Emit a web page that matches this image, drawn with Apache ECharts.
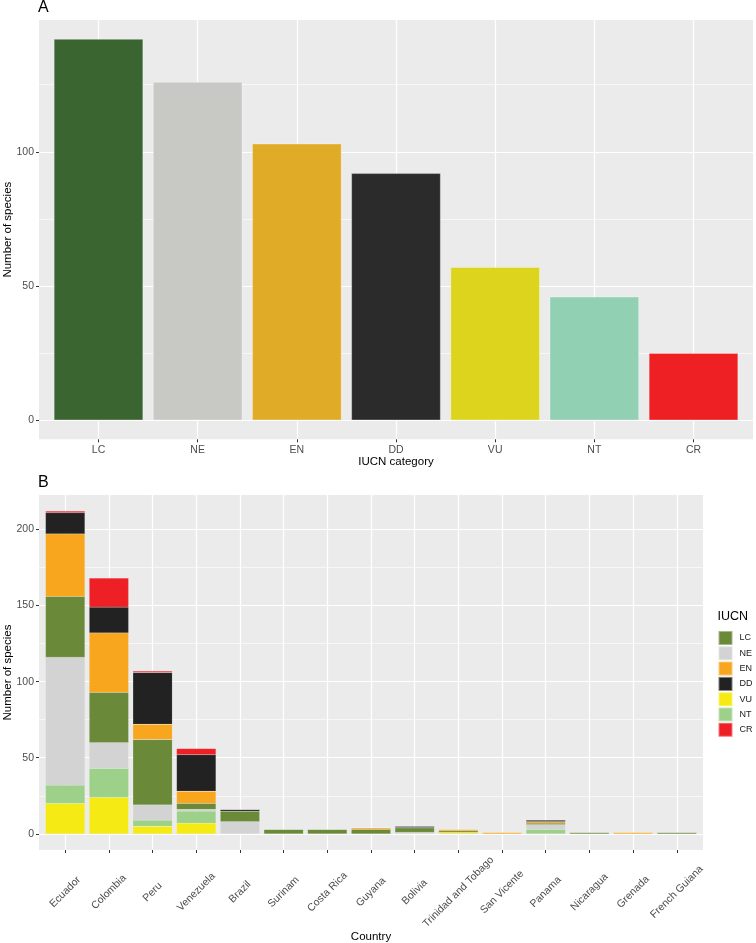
<!DOCTYPE html>
<html>
<head>
<meta charset="utf-8">
<script src="https://cdn.jsdelivr.net/npm/echarts@6/dist/echarts.min.js"></script>
<style>
  html, body { margin: 0; padding: 0; background: #fff; }
  #chart { width: 756px; height: 943px; }
</style>
</head>
<body>
<div id="chart"></div>
<script>
// Panel A: number of species per IUCN category
const iucnCategories = ['LC', 'NE', 'EN', 'DD', 'VU', 'NT', 'CR'];
const speciesPerCategory = [142, 126, 103, 92, 57, 46, 25];

// Panel B: number of species per country, split by IUCN category
const countries = ['Ecuador', 'Colombia', 'Peru', 'Venezuela', 'Brazil', 'Surinam', 'Costa Rica', 'Guyana',
  'Bolivia', 'Trinidad and Tobago', 'San Vicente', 'Panama', 'Nicaragua', 'Grenada', 'French Guiana'];
const countryLC = [40, 33, 43, 4, 7, 3, 3, 3, 3, 1, 0, 1, 1, 0, 1];
const countryNE = [84, 17, 10, 1, 8, 0, 0, 0, 1, 0, 0, 3, 0, 0, 0];
const countryEN = [41, 39, 10, 8, 0, 0, 0, 1, 0, 1, 1, 1, 0, 1, 0];
const countryDD = [14, 17, 34, 24, 1, 0, 0, 0, 1, 0, 0, 1, 0, 0, 0];
const countryVU = [20, 24, 5, 7, 0, 0, 0, 0, 0, 1, 0, 0, 0, 0, 0];
const countryNT = [12, 19, 4, 8, 0, 0, 0, 0, 0, 0, 0, 3, 0, 0, 0];
const countryCR = [1, 19, 1, 4, 0, 0, 0, 0, 0, 0, 0, 0, 0, 0, 0];

const legendOrder = ['LC', 'NE', 'EN', 'DD', 'VU', 'NT', 'CR'];
const ticksA = [0, 50, 100];
const minorA = [25, 75, 125];
const ticksB = [0, 50, 100, 150, 200];
const minorB = [25, 75, 125, 175];

// colours
const colorsA = { LC: '#3A6531', NE: '#C8C9C4', EN: '#E0AB27', DD: '#2B2B2B', VU: '#DDD41E', NT: '#92D0B4', CR: '#EE2024' };
const colorsB = { LC: '#6A8A3A', NE: '#D3D3D3', EN: '#F9A61F', DD: '#222222', VU: '#F5EA14', NT: '#9DD18A', CR: '#EE2026' };

const FONT = '"Liberation Sans", Arial, Helvetica, sans-serif';
const panelBg = '#EBEBEB';

const chart = echarts.init(document.getElementById('chart'), null, { renderer: 'canvas' });

// ggplot style panels (expansion: 0.6 on discrete x, 5% on y)
const gridA = { left: 39, top: 20, width: 714, height: 419.3 };
const gridB = { left: 39, top: 495, width: 664, height: 355 };
const maxA = Math.max(...speciesPerCategory);
const totalsB = countries.map((c, i) => countryLC[i] + countryNE[i] + countryEN[i] + countryDD[i] + countryVU[i] + countryNT[i] + countryCR[i]);
const maxB = Math.max(...totalsB);

function xAxisFor(gridIndex, names, labelOpts, nameOpts) {
  const ints = names.map((n, i) => i);
  return Object.assign({
    type: 'value',
    gridIndex: gridIndex,
    min: -0.6,
    max: names.length - 0.4,
    minInterval: 1,
    maxInterval: 1,
    axisLine: { show: false, onZero: false },
    axisTick: { show: true, length: 3, lineStyle: { color: '#333333', width: 1 }, customValues: ints },
    axisLabel: Object.assign({
      customValues: ints,
      formatter: v => names[Math.round(v)] || '',
      color: '#4D4D4D',
      fontSize: 10.5,
      fontFamily: FONT
    }, labelOpts),
    splitLine: { show: true, lineStyle: { color: '#FFFFFF', width: 1.2 } },
    nameLocation: 'middle',
    nameMoveOverlap: false,
    nameTextStyle: { color: '#000', fontSize: 11.5, fontFamily: FONT }
  }, nameOpts);
}

function yAxisFor(gridIndex, maxVal, ticks) {
  const pad = maxVal * 0.05;
  return {
    type: 'value',
    gridIndex: gridIndex,
    min: -pad,
    max: maxVal + pad,
    minInterval: 50,
    maxInterval: 50,
    name: 'Number of species',
    nameLocation: 'middle',
    nameGap: 25,
    nameRotate: 90,
    nameMoveOverlap: false,
    nameTextStyle: { color: '#000', fontSize: 11.5, fontFamily: FONT },
    axisLine: { show: false, onZero: false },
    axisTick: { show: true, length: 3, lineStyle: { color: '#333333', width: 1 }, customValues: ticks },
    axisLabel: { customValues: ticks, color: '#4D4D4D', fontSize: 10.5, fontFamily: FONT, margin: 5 },
    splitLine: { show: true, lineStyle: { color: '#FFFFFF', width: 1.2 } }
  };
}

function minorLines(values) {
  return {
    silent: true,
    symbol: 'none',
    z: 1,
    label: { show: false },
    lineStyle: { color: '#FFFFFF', width: 0.6, type: 'solid' },
    emphasis: { disabled: true },
    data: values.map(v => ({ yAxis: v }))
  };
}

// stacked from the bottom: VU, NT, NE, LC, EN, DD, CR (alphabetical levels, first on top)
const seriesB = [
  ['VU', countryVU], ['NT', countryNT], ['NE', countryNE], ['LC', countryLC],
  ['EN', countryEN], ['DD', countryDD], ['CR', countryCR]
].map(([name, vals], k) => ({
  type: 'bar',
  name: name,
  xAxisIndex: 1,
  yAxisIndex: 1,
  stack: 'country',
  barWidth: 0.9 * gridB.width / (countries.length + 0.2),
  itemStyle: { color: colorsB[name], borderColor: 'rgba(255,255,255,0.4)', borderWidth: 0.3 },
  // value first so that it is the stacked dimension
  encode: { x: 1, y: 0 },
  data: vals.map((v, i) => [v, i]),
  markLine: k === 0 ? minorLines(minorB) : undefined
}));

const titleText = { fontWeight: 'normal', color: '#000', fontFamily: FONT };

const option = {
  animation: false,
  textStyle: { fontFamily: FONT },
  title: [
    { text: 'A', left: 38, top: 0, padding: 0, textStyle: Object.assign({ fontSize: 16 }, titleText) },
    { text: 'B', left: 38, top: 475, padding: 0, textStyle: Object.assign({ fontSize: 16 }, titleText) },
    { text: 'IUCN', left: 717.5, top: 610, padding: 0, textStyle: Object.assign({ fontSize: 12.5 }, titleText) }
  ],
  legend: {
    data: legendOrder,
    orient: 'vertical',
    left: 717.5,
    top: 630,
    padding: 0,
    itemWidth: 14,
    itemHeight: 14,
    itemGap: -0.7,
    icon: 'rect',
    selectedMode: false,
    textStyle: { fontSize: 9, lineHeight: 14, color: '#1A1A1A', fontFamily: FONT, padding: [0, 0, 0, 2] }
  },
  grid: [
    Object.assign({ show: true, backgroundColor: panelBg, borderWidth: 0, outerBoundsMode: 'none', containLabel: false }, gridA),
    Object.assign({ show: true, backgroundColor: panelBg, borderWidth: 0, outerBoundsMode: 'none', containLabel: false }, gridB)
  ],
  xAxis: [
    xAxisFor(0, iucnCategories, { margin: 5 }, { name: 'IUCN category', nameGap: 17 }),
    xAxisFor(1, countries, { rotate: 45, align: 'center', verticalAlign: 'middle', margin: 42 }, { name: 'Country', nameGap: 81 })
  ],
  yAxis: [
    yAxisFor(0, maxA, ticksA),
    yAxisFor(1, maxB, ticksB)
  ],
  series: [
    {
      type: 'bar',
      name: 'IUCN category',
      xAxisIndex: 0,
      yAxisIndex: 0,
      barWidth: 0.9 * gridA.width / (iucnCategories.length + 0.2),
      data: speciesPerCategory.map((v, i) => ({
        value: [i, v],
        itemStyle: { color: colorsA[iucnCategories[i]] }
      })),
      itemStyle: { borderColor: 'rgba(255,255,255,0.5)', borderWidth: 0.6 },
      markLine: minorLines(minorA)
    }
  ].concat(seriesB)
};

chart.setOption(option);
</script>
</body>
</html>
